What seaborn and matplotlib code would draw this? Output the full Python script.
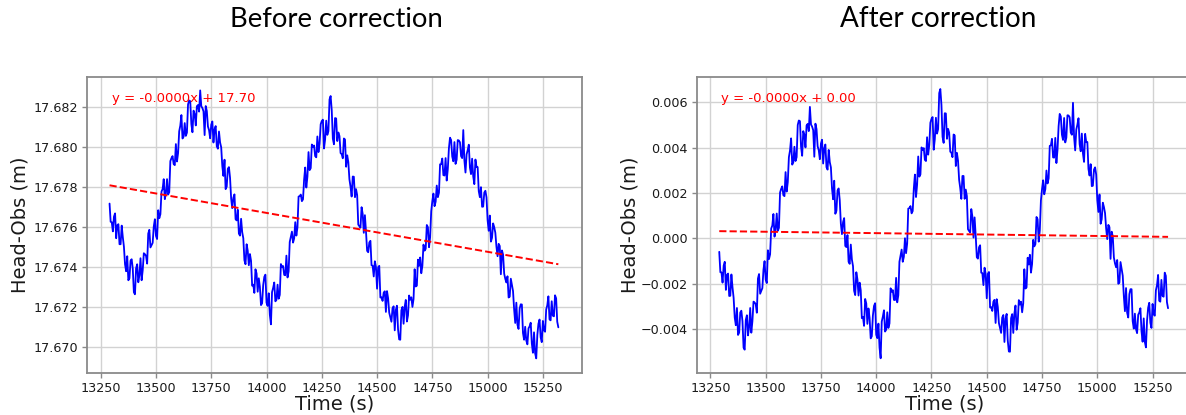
import numpy as np
import pandas as pd
import matplotlib
matplotlib.use("Agg")
import matplotlib.pyplot as plt
from matplotlib.ticker import FuncFormatter
import seaborn as sns

# ---------------- data ----------------
time_start_s = 13290
time_step_s = 5
head_base_m = 17.67

# Head-Obs before correction, in units of 1e-5 m above 17.67 m (one value every 5 s)
head_before_1e5m = [
    718, 627, 625, 579, 653, 669, 545, 610, 615, 515, 515, 608, 550, 503, 415, 380, 455, 335, 345, 433,
    440, 393, 275, 265, 395, 415, 325, 360, 445, 335, 385, 470, 465, 457, 418, 568, 587, 499, 510, 522,
    603, 640, 557, 541, 685, 645, 665, 778, 790, 840, 740, 770, 840, 763, 775, 930, 945, 955, 915, 910,
    1015, 928, 970, 1079, 1107, 1160, 1043, 1052, 1120, 1056, 1072, 1213, 1233, 1229, 1115, 1074, 1182, 1165, 1108, 1204,
    1210, 1177, 1283, 1204, 1195, 1178, 1060, 1205, 1180, 1103, 1085, 1044, 1112, 1128, 1023, 1089, 1105, 1004, 992, 1078,
    1023, 999, 905, 856, 937, 790, 803, 892, 900, 847, 743, 695, 747, 764, 640, 634, 687, 568, 558, 642,
    575, 545, 435, 415, 515, 483, 410, 466, 432, 308, 313, 272, 390, 369, 278, 345, 302, 211, 220, 311,
    352, 363, 223, 207, 270, 163, 115, 276, 297, 324, 230, 237, 313, 243, 262, 416, 400, 406, 362, 360,
    458, 349, 380, 526, 552, 578, 523, 544, 625, 558, 600, 753, 755, 763, 730, 739, 837, 898, 798, 852,
    975, 885, 895, 1013, 1000, 1008, 955, 949, 1053, 975, 1017, 1114, 1130, 1137, 993, 1038, 1132, 1061, 1080, 1238,
    1255, 1184, 1042, 1014, 1145, 1143, 1030, 1073, 1055, 970, 965, 944, 1043, 1038, 902, 959, 925, 839, 802, 753,
    853, 852, 750, 790, 760, 613, 605, 598, 700, 666, 572, 660, 578, 482, 475, 524, 532, 410, 408, 354,
    430, 402, 293, 400, 407, 249, 250, 232, 273, 280, 177, 281, 245, 173, 150, 128, 195, 205, 85, 187,
    208, 89, 40, 38, 185, 202, 118, 203, 237, 129, 160, 259, 238, 250, 202, 241, 390, 304, 308, 438,
    407, 449, 370, 407, 513, 483, 492, 611, 600, 500, 550, 680, 730, 768, 705, 727, 808, 750, 772, 914,
    915, 943, 860, 858, 945, 833, 890, 994, 1047, 1035, 953, 929, 1025, 916, 937, 1035, 1033, 1024, 955, 945,
    1085, 934, 873, 964, 985, 1012, 898, 865, 942, 854, 815, 938, 900, 900, 780, 750, 800, 702, 703, 773,
    782, 749, 635, 582, 658, 528, 547, 619, 600, 572, 503, 455, 517, 506, 365, 484, 463, 368, 342, 324,
    355, 249, 253, 343, 312, 281, 190, 122, 223, 113, 92, 194, 215, 214, 72, 38, 103, 34, 15, 95,
    105, 123, 20, -27, 75, -30, -55, 62, 118, 139, 50, 26, 132, 85, 78, 189, 210, 255, 140, 135,
    230, 158, 155, 260, 245, 128, 100,
]

# Head-Obs after correction, in units of 1e-5 m (one value every 5 s)
head_after_1e5m = [
    -60, -150, -151, -196, -121, -104, -228, -162, -156, -255, -254, -160, -217, -263, -350, -384, -308, -427, -417, -328,
    -320, -366, -483, -492, -361, -340, -429, -393, -308, -417, -366, -280, -284, -291, -329, -178, -158, -245, -233, -220,
    -139, -101, -183, -198, -53, -92, -71, 43, 56, 107, 7, 38, 109, 33, 46, 202, 218, 229, 190, 186,
    292, 206, 248, 358, 387, 441, 325, 335, 404, 341, 358, 500, 520, 517, 404, 364, 473, 457, 401, 498,
    505, 473, 580, 502, 493, 477, 360, 506, 482, 406, 389, 349, 418, 435, 330, 397, 414, 314, 303, 390,
    336, 313, 220, 172, 254, 108, 121, 211, 220, 168, 65, 18, 71, 89, -34, -39, 14, -104, -113, -28,
    -94, -123, -232, -251, -150, -181, -253, -196, -230, -353, -347, -387, -268, -288, -378, -310, -352, -442, -433, -341,
    -299, -287, -426, -441, -377, -483, -530, -368, -346, -318, -412, -404, -327, -396, -376, -221, -236, -229, -272, -273,
    -175, -283, -251, -104, -77, -50, -104, -82, 0, -66, -23, 131, 133, 142, 110, 120, 219, 281, 182, 237,
    361, 272, 282, 401, 389, 398, 346, 341, 446, 369, 412, 510, 527, 535, 391, 437, 532, 462, 482, 641,
    659, 589, 448, 421, 552, 551, 439, 483, 466, 382, 378, 358, 458, 454, 319, 377, 343, 258, 222, 174,
    275, 275, 174, 215, 186, 40, 32, 26, 129, 96, 3, 92, 11, -84, -90, -40, -31, -152, -154, -207,
    -130, -157, -265, -157, -149, -306, -304, -321, -280, -272, -374, -269, -304, -375, -397, -418, -350, -339, -458, -355,
    -334, -452, -500, -501, -353, -335, -418, -332, -297, -404, -373, -273, -293, -280, -327, -287, -137, -222, -217, -86,
    -116, -73, -152, -114, -7, -36, -26, 94, 84, -15, 36, 167, 217, 256, 194, 217, 299, 242, 265, 408,
    410, 439, 357, 356, 443, 332, 390, 495, 549, 538, 457, 434, 531, 423, 444, 543, 542, 534, 466, 457,
    598, 448, 388, 480, 502, 530, 416, 384, 462, 375, 337, 461, 424, 425, 306, 277, 327, 230, 232, 303,
    313, 281, 168, 116, 193, 64, 84, 157, 138, 111, 43, -4, 59, 49, -91, 29, 9, -85, -111, -128,
    -96, -201, -196, -105, -135, -165, -255, -322, -220, -329, -350, -247, -225, -225, -366, -399, -333, -401, -419, -338,
    -328, -309, -411, -457, -354, -458, -482, -364, -307, -285, -373, -396, -290, -336, -342, -230, -208, -162, -276, -280,
    -184, -255, -258, -152, -166, -282, -309,
]

panel_titles = ["Before correction", "After correction"]
x_label = "Time (s)"
y_label = "Head-Obs (m)"
x_ticks = [13250, 13500, 13750, 14000, 14250, 14500, 14750, 15000, 15250]
y_ticks_before = [17.670, 17.672, 17.674, 17.676, 17.678, 17.680, 17.682]
y_ticks_after = [-0.004, -0.002, 0.000, 0.002, 0.004, 0.006]

# ---------------- derived arrays ----------------
time_s = time_start_s + time_step_s * np.arange(len(head_before_1e5m))
head_before = head_base_m + np.array(head_before_1e5m) * 1e-5
head_after = np.array(head_after_1e5m) * 1e-5

# ---------------- style ----------------
sns.set_style("white")
plt.rcParams["font.family"] = ["DejaVu Sans"]
TEXT = "#1a1a1a"
SPINE = "#8a8a8a"
GRID = "#d2d2d2"

W, H = 1186, 415
fig = plt.figure(figsize=(W / 100, H / 100), dpi=100)

ax_w, ax_h = 495 / W, 296 / H
ax_bottom = 1 - 373 / H
ax1 = fig.add_axes([87 / W, ax_bottom, ax_w, ax_h])
ax2 = fig.add_axes([696.7 / W, ax_bottom, ax_w, ax_h])


def minus_fmt(decimals):
    def f(v, pos):
        s = f"{v:.{decimals}f}"
        if float(s) == 0:
            s = f"{0:.{decimals}f}"
        return s.replace("-", "\u2212")
    return FuncFormatter(f)


panels = [
    (ax1, head_before, y_ticks_before, (17.66872, 17.68350)),
    (ax2, head_after, y_ticks_after, (-0.00595, 0.00712)),
]

for ax, vals, yticks, ylim in panels:
    df = pd.DataFrame({"t": time_s, "h": vals})
    sns.lineplot(data=df, x="t", y="h", ax=ax, color="blue", lw=1.3,
                 estimator=None, sort=False, zorder=3)
    slope, intercept = np.polyfit(time_s, vals, 1)
    df["fit"] = slope * df["t"] + intercept
    sns.lineplot(data=df, x="t", y="fit", ax=ax, color="red", lw=1.4,
                 linestyle="--", estimator=None, sort=False, zorder=4)
    ax.text(0.05, 0.95, f"y = {slope:.4f}x + {intercept:.2f}",
            transform=ax.transAxes, color="red", fontsize=9.5,
            va="top", ha="left", zorder=5)

    ax.set_xlim(13188, 15427)
    ax.set_ylim(*ylim)
    ax.set_xticks(x_ticks)
    ax.set_yticks(yticks)
    ax.yaxis.set_major_formatter(minus_fmt(3))
    ax.grid(True, color=GRID, lw=1.0, zorder=0)
    ax.set_axisbelow(True)
    for sp in ax.spines.values():
        sp.set_color(SPINE)
        sp.set_linewidth(1.3)
    ax.tick_params(axis="both", which="major", direction="out", length=3.5,
                   width=1.0, color=SPINE, labelsize=9.2, labelcolor=TEXT,
                   bottom=True, left=True, pad=3)
    ax.set_xlabel(x_label, fontsize=14, color=TEXT)
    ax.xaxis.label.set_verticalalignment("baseline")
    ax.xaxis.set_label_coords(0.5, -(409 - 373) / 296)
    ax.set_ylabel(y_label, fontsize=14, color=TEXT)
    ax.yaxis.label.set_verticalalignment("center")
    ax.yaxis.set_label_coords(-0.135, 0.5)

# ---------------- titles (fitted to the reference width) ----------------
renderer = fig.canvas.get_renderer()
title_specs = [(panel_titles[0], 336.7, 213.0), (panel_titles[1], 938.0, 197.0)]
for txt, cx, target_w in title_specs:
    t = fig.text(cx / W, 1 - 27.3 / H, txt, fontsize=20, family=["Lato", "DejaVu Sans"],
                 ha="center", va="baseline", color="black")
    w = t.get_window_extent(renderer).width
    t.set_fontsize(20 * target_w / w)

fig.savefig("out.png", dpi=100)
